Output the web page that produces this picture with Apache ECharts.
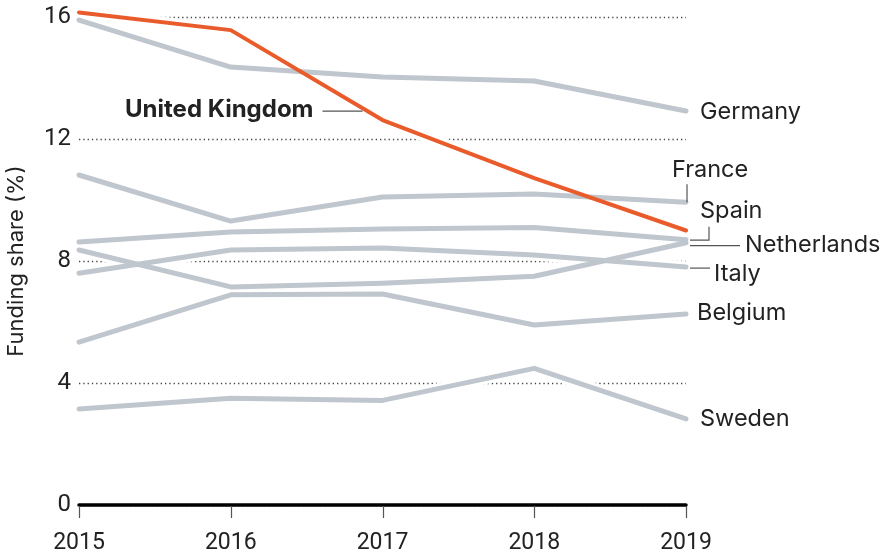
<!DOCTYPE html>
<html>
<head>
<meta charset="utf-8">
<script src="https://cdn.jsdelivr.net/npm/echarts@6/dist/echarts.min.js"></script>
<style>html,body{margin:0;padding:0;background:#fff}#c{width:885px;height:555px}</style>
</head>
<body>
<div id="c"></div>
<script>
const years = ['2015', '2016', '2017', '2018', '2019'];
const yTicks = [0, 4, 8, 12, 16];
const uk          = [16.15, 15.57, 12.62, 10.72, 9.00];
const germany     = [15.90, 14.36, 14.03, 13.90, 12.92];
const france      = [10.82, 9.31, 10.10, 10.20, 9.93];
const spain       = [8.62, 8.95, 9.05, 9.10, 8.70];
const netherlands = [8.36, 7.15, 7.27, 7.50, 8.60];
const italy       = [7.60, 8.36, 8.43, 8.20, 7.80];
const belgium     = [5.34, 6.89, 6.92, 5.90, 6.26];
const sweden      = [3.15, 3.50, 3.43, 4.48, 2.82];

const greySeries = [
  ['Germany', germany], ['France', france], ['Spain', spain],
  ['Netherlands', netherlands], ['Italy', italy], ['Belgium', belgium], ['Sweden', sweden]
];
const GREY = '#bfc6ce';
const ORANGE = '#e95b2a';
const FONT = 'Inter';

const allSeries = greySeries.concat([['United Kingdom', uk]]);
const series = [];
// white halos that break the dotted gridlines, like the original
allSeries.forEach(([name, d]) => series.push({
  name: name + ' halo', type: 'line', data: d, symbol: 'none', z: 1, clip: false, silent: true,
  lineStyle: { color: '#fff', width: 11, cap: 'round', join: 'round' }
}));
greySeries.forEach(([name, d]) => series.push({
  name, type: 'line', data: d, symbol: 'none', z: 2, clip: false,
  lineStyle: { color: GREY, width: 5, cap: 'round', join: 'round' }
}));
series.push({
  name: 'United Kingdom', type: 'line', data: uk, symbol: 'none', z: 3, clip: false,
  lineStyle: { color: ORANGE, width: 4, cap: 'round', join: 'round' }
});

const chart = echarts.init(document.getElementById('c'), null, { renderer: 'canvas' });
chart.setOption({
  animation: false,
  grid: { left: 79, right: 199, top: 17, bottom: 50, containLabel: false, outerBoundsMode: 'none' },
  xAxis: {
    type: 'category', data: years, boundaryGap: false, z: 5,
    axisLine: { lineStyle: { color: '#000', width: 3.5 } },
    axisTick: { show: false },
    axisLabel: { fontFamily: 'Roboto', fontSize: 23, color: '#222', margin: 27 },
    splitLine: { show: false }
  },
  yAxis: {
    type: 'value', min: 0, max: 16, interval: 4,
    name: 'Funding share (%)', nameLocation: 'middle', nameGap: 52,
    nameTextStyle: { fontFamily: FONT, fontSize: 22, color: '#222' },
    axisLine: { show: false }, axisTick: { show: false },
    axisLabel: { fontFamily: 'Roboto', fontSize: 24, color: '#222', margin: 8,
      formatter: v => yTicks.includes(v) ? String(v) : '' },
    splitLine: { show: true, lineStyle: { color: '#444', width: 1.3, type: [1.3, 3] } }
  },
  series
});

function px(i, v) { return chart.convertToPixel({ gridIndex: 0 }, [i, v]); }
const last = years.length - 1;
const txt = (x, y, text, opts = {}) => ({
  type: 'text', x, y, z: 10,
  style: Object.assign({ text, fontFamily: FONT, fontSize: 23.5, fill: '#222',
    textAlign: 'left', textVerticalAlign: 'middle' }, opts)
});
const seg = (pts, stroke = '#555', lw = 1.2) => ({
  type: 'polyline', z: 9, shape: { points: pts },
  style: { stroke, lineWidth: lw, fill: null }
});

const pUK = px(2, uk[2]);
const pG = px(last, germany[last]);
const pF = px(last, france[last]);
const pS = px(last, spain[last]);
const pN = px(last, netherlands[last]);
const pI = px(last, italy[last]);
const pB = px(last, belgium[last]);
const pSw = px(last, sweden[last]);

const g = [
  txt(pUK[0] - 69, pUK[1] - 10, 'United Kingdom', { textAlign: 'right', fontWeight: 'bold', fontSize: 24 }),
  seg([[pUK[0] - 60, pUK[1] - 9], [pUK[0] - 20, pUK[1] - 9]]),
  txt(pG[0] + 14, pG[1] + 1, 'Germany'),
  txt(pF[0] - 14, pF[1] - 32, 'France'),
  seg([[pF[0] + 1, pF[1] - 18], [pF[0] + 1, pF[1]]]),
  txt(pS[0] + 14, pS[1] - 29, 'Spain'),
  seg([[pS[0] + 23, pS[1] - 13], [pS[0] + 23, pS[1] + 0.5], [pS[0] + 4, pS[1] + 0.5]]),
  txt(pN[0] + 59, pN[1] + 2, 'Netherlands'),
  seg([[pN[0] + 4, pN[1] + 3], [pN[0] + 54, pN[1] + 3]]),
  txt(pI[0] + 28, pI[1] + 7, 'Italy'),
  seg([[pI[0] + 4, pI[1] + 1], [pI[0] + 24, pI[1] + 1]]),
  txt(pB[0] + 11, pB[1] - 1, 'Belgium'),
  txt(pSw[0] + 14, pSw[1], 'Sweden')
];
// x-axis ticks, positioned from the category axis
years.forEach((y, i) => {
  const p = px(i, 0);
  g.push(seg([[Math.round(p[0]) + 0.5, p[1] + 1], [Math.round(p[0]) + 0.5, p[1] + 13]], '#555', 1.2));
});
chart.setOption({ graphic: g });
</script>
</body>
</html>
